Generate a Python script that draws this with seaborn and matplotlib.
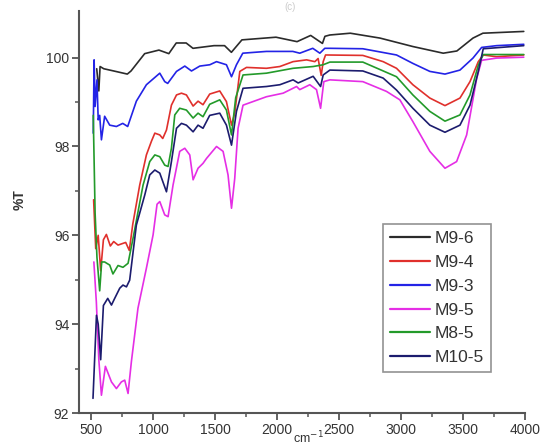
import numpy as np
import pandas as pd
import matplotlib
matplotlib.use("Agg")
import matplotlib.pyplot as plt
import seaborn as sns

# ---- data (wavenumber cm-1, %T) ----
wn_m96 = [543, 560, 570, 600, 680, 790, 820, 930, 1045, 1125, 1185, 1265, 1320, 1490, 1575, 1630, 1715, 1990,
          2160, 2270, 2365, 2385, 2425, 2590, 2830, 3095, 3340, 3450, 3580, 3660, 3990]
t_m96 = [99.75, 99.25, 99.80, 99.75, 99.70, 99.63, 99.70, 100.09, 100.17, 100.09, 100.33, 100.33, 100.21, 100.27,
         100.27, 100.12, 100.40, 100.46, 100.36, 100.50, 100.32, 100.48, 100.51, 100.55, 100.44, 100.25, 100.10,
         100.15, 100.44, 100.55, 100.59]

wn_m94 = [518, 535, 555, 575, 597, 621, 653, 680, 715, 777, 806, 834, 890, 944, 985, 1012, 1052, 1076, 1106, 1146,
          1187, 1227, 1267, 1321, 1361, 1401, 1455, 1536, 1590, 1631, 1657, 1698, 1752, 1913, 2021, 2128, 2237, 2304,
          2330, 2355, 2371, 2390, 2691, 2855, 2963, 3095, 3232, 3354, 3475, 3556, 3623, 3663, 3771, 3990]
t_m94 = [96.8, 95.7, 96.0, 95.2, 95.90, 96.02, 95.76, 95.86, 95.78, 95.84, 95.66, 96.25, 97.13, 97.81, 98.12, 98.30,
         98.26, 98.18, 98.37, 98.93, 99.16, 99.20, 99.16, 98.91, 99.02, 98.94, 99.18, 99.25, 99.01, 98.48, 98.75,
         99.69, 99.78, 99.76, 99.80, 99.91, 99.95, 99.91, 99.98, 99.60, 99.91, 100.06, 100.05, 99.91, 99.76, 99.39,
         99.09, 98.92, 99.09, 99.46, 99.91, 100.06, 100.02, 100.06]

wn_m93 = [515, 522, 530, 545, 555, 567, 581, 607, 648, 702, 753, 793, 863, 944, 1052, 1092, 1116, 1187, 1254, 1308,
          1375, 1456, 1510, 1590, 1631, 1671, 1722, 1913, 2126, 2182, 2287, 2344, 2384, 2425, 2691, 2963, 3095, 3232,
          3354, 3475, 3580, 3650, 3771, 3990]
t_m93 = [98.3, 99.95, 98.9, 99.5, 98.6, 98.70, 98.15, 98.68, 98.48, 98.45, 98.52, 98.45, 99.02, 99.39, 99.65, 99.46,
         99.42, 99.69, 99.81, 99.70, 99.81, 99.84, 99.91, 99.84, 99.57, 99.84, 100.10, 100.14, 100.14, 100.10, 100.21,
         100.10, 100.21, 100.21, 100.20, 100.06, 99.87, 99.69, 99.63, 99.72, 99.99, 100.23, 100.27, 100.30]

wn_m95 = [520, 540, 560, 581, 613, 662, 702, 742, 769, 796, 823, 876, 944, 998, 1030, 1052, 1092, 1119, 1159, 1213,
          1254, 1294, 1321, 1361, 1401, 1429, 1510, 1563, 1603, 1631, 1657, 1684, 1724, 1913, 2048, 2156, 2182, 2263,
          2317, 2350, 2376, 2425, 2691, 2882, 2990, 3095, 3232, 3354, 3448, 3529, 3610, 3650, 3771, 3990]
t_m95 = [95.4, 94.5, 93.2, 92.40, 93.05, 92.70, 92.55, 92.70, 92.74, 92.44, 93.16, 94.36, 95.26, 96.01, 96.70, 96.76,
         96.46, 96.42, 97.13, 97.89, 97.96, 97.81, 97.25, 97.51, 97.62, 97.73, 98.00, 97.89, 97.36, 96.61, 97.28,
         98.41, 98.93, 99.12, 99.20, 99.35, 99.28, 99.39, 99.28, 98.86, 99.46, 99.50, 99.46, 99.24, 99.05, 98.56,
         97.89, 97.51, 97.66, 98.26, 99.53, 99.94, 99.99, 100.01]

wn_m85 = [515, 530, 545, 567, 583, 607, 648, 674, 715, 755, 796, 836, 917, 971, 1012, 1052, 1092, 1119, 1146, 1173,
          1213, 1267, 1321, 1361, 1401, 1455, 1536, 1590, 1631, 1665, 1724, 1913, 2128, 2290, 2371, 2425, 2691, 2963,
          3095, 3232, 3354, 3475, 3556, 3623, 3663, 3990]
t_m85 = [98.7, 96.5, 95.5, 94.75, 95.40, 95.40, 95.33, 95.13, 95.32, 95.28, 95.37, 95.93, 97.13, 97.66, 97.81, 97.77,
         97.58, 97.55, 97.96, 98.71, 98.86, 98.82, 98.64, 98.75, 98.67, 98.95, 99.05, 98.82, 98.26, 99.10, 99.61,
         99.65, 99.76, 99.80, 99.84, 99.90, 99.90, 99.57, 99.16, 98.79, 98.57, 98.71, 99.16, 99.83, 100.07, 100.07]

wn_m105 = [513, 541, 555, 575, 597, 632, 662, 688, 729, 755, 783, 809, 863, 931, 971, 1012, 1052, 1106, 1146, 1187,
           1227, 1267, 1321, 1361, 1401, 1455, 1536, 1590, 1631, 1671, 1724, 1913, 2021, 2128, 2169, 2290, 2350, 2371,
           2425, 2691, 2855, 2963, 3095, 3232, 3354, 3475, 3556, 3623, 3663, 3990]
t_m105 = [92.33, 94.20, 94.0, 93.2, 94.42, 94.58, 94.43, 94.58, 94.81, 94.88, 94.84, 94.99, 96.23, 96.91, 97.36,
          97.47, 97.40, 96.98, 97.66, 98.41, 98.52, 98.48, 98.33, 98.48, 98.41, 98.70, 98.75, 98.48, 98.03, 98.79,
          99.31, 99.35, 99.39, 99.50, 99.43, 99.58, 99.35, 99.61, 99.72, 99.70, 99.54, 99.27, 98.86, 98.48, 98.32,
          98.48, 98.93, 99.69, 100.20, 100.27]

samples = ["M9-6", "M9-4", "M9-3", "M9-5", "M8-5", "M10-5"]
series = {
    "M9-6": (wn_m96, t_m96),
    "M9-4": (wn_m94, t_m94),
    "M9-3": (wn_m93, t_m93),
    "M9-5": (wn_m95, t_m95),
    "M8-5": (wn_m85, t_m85),
    "M10-5": (wn_m105, t_m105),
}
colors = {
    "M9-6": "#2b2b2b",
    "M9-4": "#e0302c",
    "M9-3": "#2323e6",
    "M9-5": "#e52ee5",
    "M8-5": "#239a2a",
    "M10-5": "#1c1c6e",
}

rows = []
for s in samples:
    w, t = series[s]
    for a, b in zip(w, t):
        rows.append((s, a, b))
df = pd.DataFrame(rows, columns=["sample", "wavenumber", "T"])

sns.set_theme(style="white")
plt.rcParams["font.family"] = ["Liberation Sans", "DejaVu Sans"]

fig = plt.figure(figsize=(5.42, 4.47), dpi=100)
ax = fig.add_axes([79 / 542, 1 - 413 / 447, (525 - 79) / 542, (413 - 11) / 447])

sns.lineplot(data=df, x="wavenumber", y="T", hue="sample", hue_order=samples, palette=colors,
             estimator=None, sort=False, linewidth=1.2, legend=False, ax=ax)

ax.set_xlim(400, 4000)
ax.set_ylim(92, 101.05)
ax.set_xticks(np.arange(500, 4001, 500))
ax.set_xticks(np.arange(750, 4000, 500), minor=True)
ax.set_yticks([92, 94, 96, 98, 100])
ax.set_yticks([93, 95, 97, 99], minor=True)
ax.set_xlabel("")
ax.set_ylabel("")

for side in ["top", "right"]:
    ax.spines[side].set_visible(False)
for side in ["left", "bottom"]:
    ax.spines[side].set_color("#555555")
    ax.spines[side].set_linewidth(1.5)

ax.tick_params(axis="both", which="major", direction="out", length=5, width=1.3, color="#555555",
               labelsize=10, labelcolor="#333333", pad=2, bottom=True, left=True)
ax.tick_params(axis="both", which="minor", direction="out", length=3, width=1.1, color="#555555",
               bottom=True, left=True)

handles = [plt.Line2D([0], [0], color=colors[s], lw=1.6) for s in samples]
leg = fig.legend(handles, samples, loc="upper left", bbox_to_anchor=(383 / 542, 1 - 224 / 447),
                 bbox_transform=fig.transFigure, borderaxespad=0, fontsize=12.5, frameon=True,
                 fancybox=False, edgecolor="#777777", handlelength=2.3, handletextpad=0.3,
                 labelspacing=0.5, borderpad=0.4)
leg.get_frame().set_linewidth(1.2)
for txt in leg.get_texts():
    txt.set_color("#333333")

fig.text(20 / 542, 1 - 200 / 447, "%T", rotation=90, ha="center", va="center",
         fontsize=10, fontweight="bold", color="#333333")
fig.text(308 / 542, 0.002, "cm$^{-1}$", ha="center", va="bottom", fontsize=9, color="#333333")
fig.text(290 / 542, 0.995, "(c)", ha="center", va="top", fontsize=7, color="#cccccc")

fig.savefig("out.png", dpi=100)
